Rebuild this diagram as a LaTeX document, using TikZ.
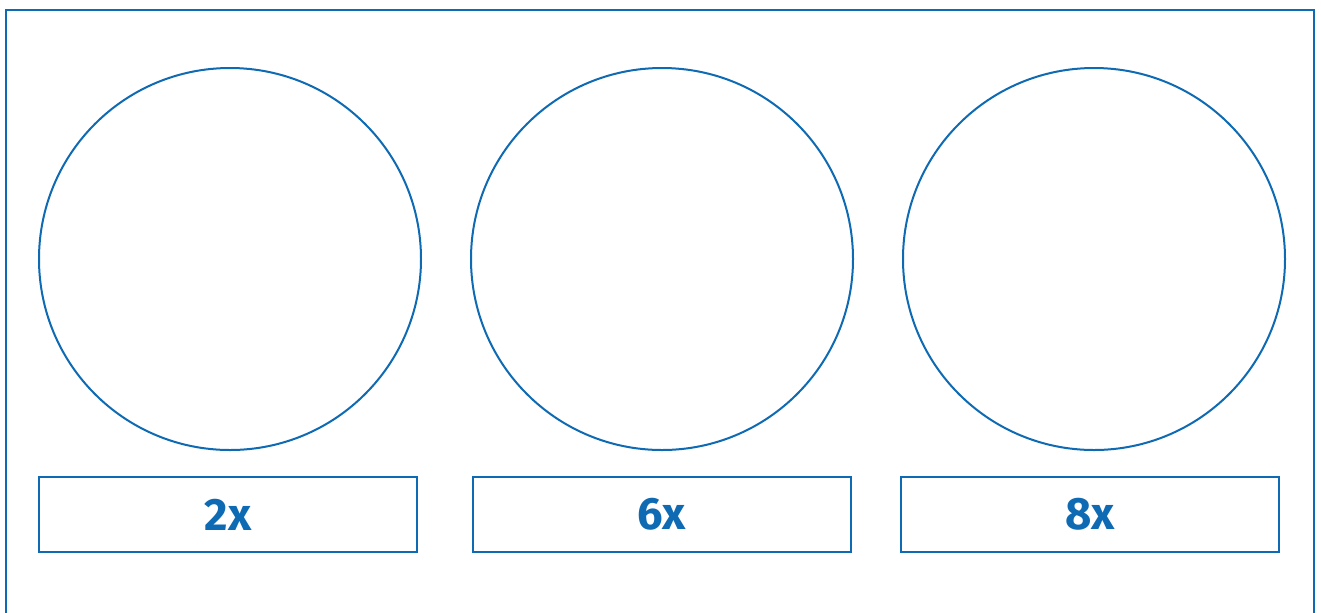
\documentclass[tikz,border=0pt]{standalone}
\usepackage{fontspec}
\setmainfont{Fira Sans}
\usepackage{tikz}
\definecolor{panelblue}{RGB}{14,106,178}

\begin{document}
\begin{tikzpicture}[x=0.75pt,y=-0.75pt]
	    \tikzset{lens/.style={circle, draw=panelblue, line width=1.5pt, minimum size=286.5pt, inner sep=0pt},
	             tag/.style={rectangle, draw=panelblue, line width=1.5pt, minimum width=283.5pt, minimum height=56.25pt, inner sep=0pt, text=panelblue, font=\fontsize{34}{38}\selectfont\bfseries}}
	    \useasboundingbox (0,0) rectangle (1321,612);
	    \draw[draw=panelblue, line width=1.5pt] (6,10) rectangle (1314,650);
	    % circles
	    \node[lens] (lensA) at (230,259) {};
	    \node[lens] (lensB) at (662,259) {};
	    \node[lens] (lensC) at (1094,259) {};
	    % labels
	    \node[tag] (tagA) at (228,514.5) {2x};
	    \node[tag] (tagB) at (661.5,514.5) {6x};
	    \node[tag] (tagC) at (1090,514.5) {8x};
    \end{tikzpicture}
\end{document}
